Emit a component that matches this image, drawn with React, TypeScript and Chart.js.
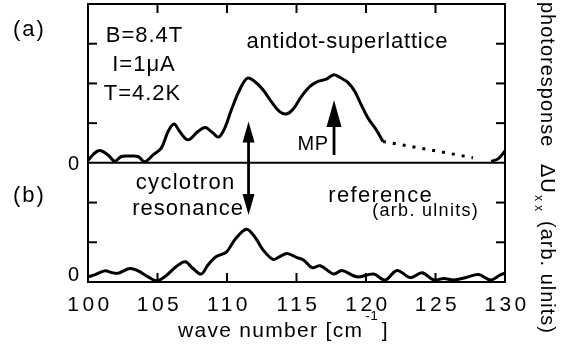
import React, { useEffect, useRef } from 'react';
import { Chart, registerables } from 'chart.js';
Chart.register(...registerables);

const FONT = "'Liberation Sans', Arial, Helvetica, sans-serif";

// axis ticks
const xTickValues = [100, 105, 110, 115, 120, 125, 130];
const xTickLabels = ['100', '105', '110', '115', '120', '125', '130'];
const yTickValues = [0, 1, 2, 3, 4, 5, 6, 7];
const yZeroLabels = ['0', '0'];
const A_ZERO = 3; // baseline of curve (a) in y-axis units

// (a) antidot-superlattice, solid part (values relative to its own zero)
const waveA = [100.0, 100.4, 100.84, 101.44, 101.92, 102.4, 103.0, 103.6, 104.08, 104.68, 105.27, 105.76, 106.19, 106.6, 107.19, 107.91, 108.44, 108.99, 109.4, 109.83, 110.31, 110.91, 111.46, 111.99, 112.59, 113.19, 113.79, 114.27, 114.75, 115.35, 115.95, 116.55, 117.15, 117.7, 118.23, 118.71, 119.19, 119.66, 120.14, 120.74, 121.22];
const respA = [0.06, 0.22, 0.31, 0.2, 0.04, 0.16, 0.17, 0.16, 0.03, 0.2, 0.37, 0.79, 0.98, 0.79, 0.58, 0.79, 0.89, 0.75, 0.65, 0.87, 1.33, 1.84, 2.13, 2.05, 1.84, 1.54, 1.29, 1.23, 1.35, 1.67, 1.92, 2.05, 2.11, 2.22, 2.13, 2.02, 1.8, 1.46, 1.13, 0.83, 0.54];
// (a) dotted extrapolation
const waveADotted = [121.22, 127.7];
const respADotted = [0.54, 0.13];
// (a) last solid piece
const waveAEnd = [129.0, 129.5, 130.0];
const respAEnd = [0.04, 0.1, 0.3];

// (b) reference
const waveB = [100.0, 100.48, 101.2, 101.68, 102.16, 103.0, 103.6, 104.32, 104.92, 105.52, 106.35, 107.0, 107.55, 108.15, 108.63, 109.23, 109.95, 110.55, 111.39, 111.99, 112.59, 113.31, 113.79, 114.32, 115.0, 115.52, 116.12, 116.71, 117.68, 118.27, 119.35, 120.55, 121.38, 122.23, 123.19, 124.03, 124.87, 125.59, 126.31, 127.27, 128.11, 128.95, 129.67, 130.0];
const respB = [0.13, 0.18, 0.28, 0.24, 0.22, 0.34, 0.28, 0.13, 0.03, 0.13, 0.39, 0.51, 0.34, 0.2, 0.43, 0.64, 0.75, 1.06, 1.33, 1.14, 0.81, 0.57, 0.64, 0.72, 0.62, 0.55, 0.36, 0.41, 0.2, 0.29, 0.13, 0.2, 0.05, 0.29, 0.11, 0.23, 0.05, 0.09, 0.05, 0.12, 0.19, 0.05, 0.18, 0.22];

// arrows (data coordinates)
const crArrow = { x: 111.55, yTop: 4.04, yBottom: 1.69 };
const mpArrow = { x: 117.7, yFrom: 3.2, yTo: 4.58 };

const pts = (xs: number[], ys: number[], off = 0) => xs.map((x, i) => ({ x, y: ys[i] + off }));

function txt(ctx: CanvasRenderingContext2D, s: string, x: number, y: number, size: number, align: 'left' | 'center' | 'right' = 'left', spacing = 1) {
  ctx.font = `${size}px ${FONT}`;
  (ctx as any).letterSpacing = `${spacing}px`;
  ctx.textAlign = 'left';
  ctx.textBaseline = 'alphabetic';
  const w = ctx.measureText(s).width - spacing;
  let x0 = x;
  if (align === 'center') x0 = x - w / 2;
  else if (align === 'right') x0 = x - w;
  ctx.fillText(s, x0, y);
  return x0 + w + spacing;
}

export default function App() {
  const ref = useRef<HTMLCanvasElement>(null);
  useEffect(() => {
    const canvas = ref.current!;
    const deco = {
      id: 'deco',
      beforeDraw(chart: any) {
        (chart.ctx as any).letterSpacing = '3.5px';
      },
      beforeDatasetsDraw(chart: any) {
        (chart.ctx as any).letterSpacing = '0px';
      },
      afterDraw(chart: any) {
        const ctx: CanvasRenderingContext2D = chart.ctx;
        const { left, right, top, bottom } = chart.chartArea;
        const xs = chart.scales.x;
        const ys = chart.scales.y;
        ctx.save();
        (ctx as any).letterSpacing = '0px';
        ctx.strokeStyle = '#000';
        ctx.fillStyle = '#000';
        const line = (x1: number, y1: number, x2: number, y2: number) => {
          ctx.beginPath();
          ctx.moveTo(x1, y1);
          ctx.lineTo(x2, y2);
          ctx.stroke();
        };
        // frame
        ctx.lineWidth = 2;
        ctx.strokeRect(left, top, right - left, bottom - top);
        const yA = ys.getPixelForValue(A_ZERO);
        line(left, yA, right, yA);
        // inward ticks
        const TL = 9;
        ctx.lineWidth = 2;
        xTickValues.forEach((v) => {
          if (v === xTickValues[0] || v === xTickValues[xTickValues.length - 1]) return;
          const px = xs.getPixelForValue(v);
          line(px, top, px, top + TL);
          line(px, bottom, px, bottom - TL);
        });
        yTickValues.forEach((v) => {
          if (v === yTickValues[0] || v === yTickValues[yTickValues.length - 1] || v === A_ZERO) return;
          const py = ys.getPixelForValue(v);
          line(left, py, left + TL, py);
          line(right, py, right - TL, py);
        });
        // arrows
        const head = (x: number, tipY: number, dir: number, len: number, half: number) => {
          ctx.beginPath();
          ctx.moveTo(x, tipY);
          ctx.lineTo(x - half, tipY + dir * len);
          ctx.lineTo(x + half, tipY + dir * len);
          ctx.closePath();
          ctx.fill();
        };
        ctx.lineWidth = 2.8;
        const cx = xs.getPixelForValue(crArrow.x);
        const cTop = ys.getPixelForValue(crArrow.yTop);
        const cBot = ys.getPixelForValue(crArrow.yBottom);
        line(cx, cTop + 15, cx, cBot - 15);
        head(cx, cTop, 1, 21, 6);
        head(cx, cBot, -1, 21, 6);
        const mx = xs.getPixelForValue(mpArrow.x);
        const mFrom = ys.getPixelForValue(mpArrow.yFrom);
        const mTo = ys.getPixelForValue(mpArrow.yTo);
        line(mx, mFrom, mx, mTo + 20);
        head(mx, mTo, 1, 27, 7.5);
        // y zero labels
        ctx.font = `20px ${FONT}`;
        txt(ctx, yZeroLabels[0], 79, ys.getPixelForValue(A_ZERO) + 7, 20, 'right', 0);
        txt(ctx, yZeroLabels[1], 79, ys.getPixelForValue(0) - 1, 20, 'right', 0);
        // panel labels
        txt(ctx, '(a)', 13, 36, 22, 'left', 2);
        txt(ctx, '(b)', 13, 201.5, 22, 'left', 2);
        // conditions
        txt(ctx, 'B=8.4T', 144, 41.7, 22, 'center', 1);
        txt(ctx, 'I=1\u03bcA', 143.5, 71, 22, 'center', 1);
        txt(ctx, 'T=4.2K', 142, 100, 22, 'center', 1);
        txt(ctx, 'antidot-superlattice', 347, 48, 22, 'center', 0.8);
        txt(ctx, 'MP', 328, 150, 20, 'right', 0.5);
        txt(ctx, 'cyclotron', 185, 189, 22, 'center', 1.3);
        txt(ctx, 'resonance', 187.5, 215, 22, 'center', 1);
        txt(ctx, 'reference', 380, 201.7, 22, 'center', 1.3);
        txt(ctx, '(arb. ulnits)', 425, 215.5, 18, 'center', 1.3);
        // x title
        let tx = txt(ctx, 'wave number [cm', 178, 336.7, 21, 'left', 1.3);
        tx = txt(ctx, '-1', tx + 2, 320, 13, 'left', 1);
        txt(ctx, ']', tx + 3, 336.7, 21, 'left', 1);
        // right title (rotated)
        ctx.save();
        ctx.translate(541, 2);
        ctx.rotate(Math.PI / 2);
        txt(ctx, 'photoresponse', 0, 0, 20, 'left', 1);
        txt(ctx, '\u0394U', 162, 0, 20, 'left', 1);
        txt(ctx, 'xx', 193, 6, 12, 'left', 4);
        txt(ctx, '(arb. ulnits)', 219, 0, 20, 'left', 1);
        ctx.restore();
        ctx.restore();
      },
    };
    const common = { showLine: true, borderColor: '#000', backgroundColor: '#000', pointRadius: 0, borderWidth: 3, tension: 0.35 };
    const chart = new Chart(canvas, {
      type: 'scatter',
      data: {
        datasets: [
          { ...common, data: pts(waveA, respA, A_ZERO) },
          { ...common, data: pts(waveADotted, respADotted, A_ZERO), borderDash: [3, 7], tension: 0 },
          { ...common, data: pts(waveAEnd, respAEnd, A_ZERO) },
          { ...common, data: pts(waveB, respB) },
        ],
      },
      options: {
        animation: false,
        responsive: false,
        events: [],
        layout: { padding: { left: 88, right: 66, top: 4, bottom: 0 } },
        plugins: { legend: { display: false }, tooltip: { enabled: false } },
        scales: {
          x: {
            type: 'linear',
            min: 100,
            max: 130,
            position: 'bottom',
            afterBuildTicks: (s: any) => {
              s.ticks = xTickValues.map((v) => ({ value: v }));
            },
            afterFit: (s: any) => {
              s.height = 63;
            },
            grid: { display: false },
            border: { display: false },
            ticks: {
              color: '#000',
              font: { family: FONT, size: 21 },
              padding: 3,
              labelOffset: 2,
              maxRotation: 0,
              autoSkip: false,
              callback: (v: any) => xTickLabels[xTickValues.indexOf(Number(v))] ?? '',
            },
          },
          y: { type: 'linear', min: yTickValues[0], max: yTickValues[yTickValues.length - 1], display: false },
        },
      } as any,
      plugins: [deco],
    });
    return () => chart.destroy();
  }, []);
  return (
    <div style={{ position: 'absolute', left: 0, top: 0, width: 571, height: 345, background: '#fff' }}>
      <canvas ref={ref} width={571} height={345} style={{ display: 'block' }} />
    </div>
  );
}
